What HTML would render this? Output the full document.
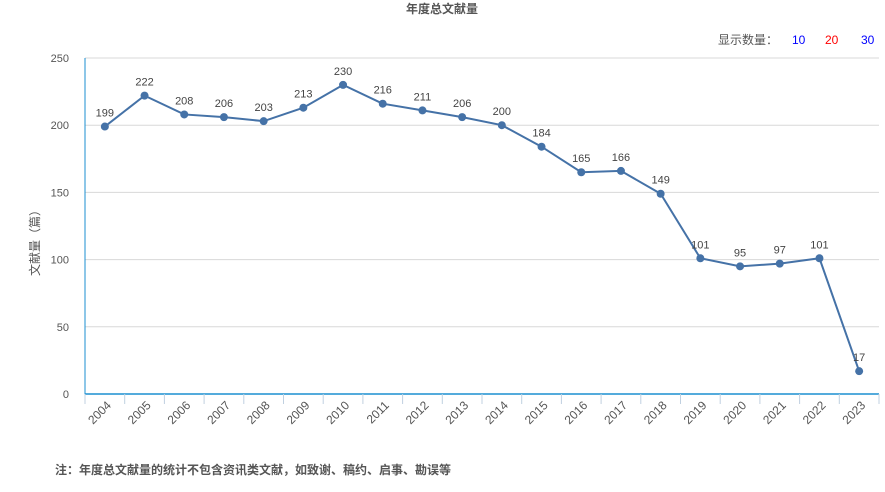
<!DOCTYPE html>
<html><head><meta charset="utf-8"><style>
body{margin:0;background:#fff;font-family:"Liberation Sans","Noto Sans CJK SC",sans-serif}
svg text{font-family:"Liberation Sans","Noto Sans CJK SC",sans-serif}
</style></head><body>
<svg id="chart" width="885" height="487" xmlns="http://www.w3.org/2000/svg">
<text x="442" y="13" text-anchor="middle" font-size="12" font-weight="bold" fill="#555">年度总文献量</text>
<text x="718" y="44" font-size="12" fill="#555">显示数量：</text>
<text x="792" y="44" font-size="12" fill="#0000ff">10</text>
<text x="825" y="44" font-size="12" fill="#ff0000">20</text>
<text x="861" y="44" font-size="12" fill="#0000ff">30</text>
<text transform="translate(39,240) rotate(-90)" text-anchor="middle" font-size="12" fill="#555">文献量（篇）</text>
<g id="grid"></g><g id="axes"></g><g id="series"></g>
<text x="55" y="474" font-size="12" font-weight="bold" fill="#555">注：年度总文献量的统计不包含资讯类文献，如致谢、稿约、启事、勘误等</text>
</svg>
<script>
const categories=["2004","2005","2006","2007","2008","2009","2010","2011","2012","2013","2014","2015","2016","2017","2018","2019","2020","2021","2022","2023"];
const values=[199,222,208,206,203,213,230,216,211,206,200,184,165,166,149,101,95,97,101,17];
const yTicks=[0,50,100,150,200,250];
const NS="http://www.w3.org/2000/svg";
const L=85,R=879,T=58,B=394,yMax=250;
const bw=(R-L)/categories.length;
const x=i=>L+bw*(i+0.5);
const y=v=>B-(v/yMax)*(B-T);
function mk(p,tag,a){const e=document.createElementNS(NS,tag);for(const k in a)e.setAttribute(k,a[k]);p.appendChild(e);return e;}
const grid=document.getElementById('grid'),axes=document.getElementById('axes'),ser=document.getElementById('series');
yTicks.forEach(t=>{
 const g=mk(grid,'line',{x1:L,x2:R,y1:y(t),y2:y(t),stroke:'#d8d8d8','stroke-width':1});
 
 
 const tx=mk(axes,'text',{x:L-16,y:y(t)+4,'text-anchor':'end','font-size':11,fill:'#555'});
 tx.textContent=t;
 
 
});
const ya=mk(axes,'line',{x1:L,x2:L,y1:T,y2:B,stroke:'#1b8fd0','stroke-width':1});


const xa=mk(axes,'line',{x1:L,x2:R,y1:B,y2:B,stroke:'#1b8fd0','stroke-width':1.5});


for(let i=0;i<=categories.length;i++){const tk=mk(axes,'line',{x1:L+bw*i,x2:L+bw*i,y1:B,y2:B+10,stroke:'#c0d0e0'});
 
 }
categories.forEach((c,i)=>{
 const tx=mk(axes,'text',{transform:`translate(${x(i)+7},${B+12}) rotate(-45)`,'text-anchor':'end','font-size':12,fill:'#555'});
 tx.textContent=c;
 
 
});
const line=mk(ser,'polyline',{points:values.map((v,i)=>x(i)+','+y(v)).join(' '),fill:'none',stroke:'#4572a7','stroke-width':2});


values.forEach((v,i)=>{
 const p=mk(ser,'circle',{cx:x(i),cy:y(v),r:4,fill:'#4572a7'});
 
 
 const t=mk(ser,'text',{x:x(i),y:y(v)-10,'text-anchor':'middle','font-size':11,fill:'#444'});
 t.textContent=v;
 
 
});
</script>
</body></html>
